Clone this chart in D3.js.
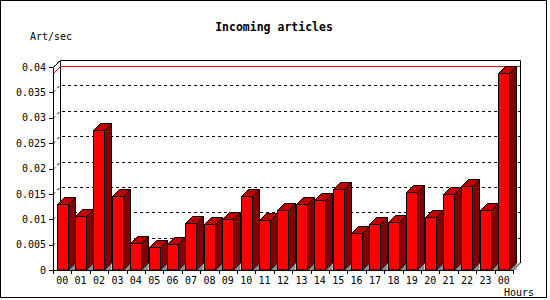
<!DOCTYPE html>
<html>
<head>
<meta charset="utf-8">
<script src="https://cdn.jsdelivr.net/npm/d3@7"></script>
<style>
  body { margin: 0; background: #fff; }
  svg text { font-family: "DejaVu Sans Mono", monospace; font-size: 10px; fill: #000; }
  .title { font-weight: bold; font-size: 11.5px; }
  .axis path, .axis line { stroke: #000; shape-rendering: crispEdges; }
  .axis text { font-family: "DejaVu Sans Mono", monospace; font-size: 10px; }
</style>
</head>
<body>
<div id="chart"></div>
<script>
// hours of the day (last bar is the next midnight)
const hours = ["00", "01", "02", "03", "04", "05", "06", "07", "08", "09", "10", "11",
               "12", "13", "14", "15", "16", "17", "18", "19", "20", "21", "22", "23", "00"];
// incoming articles per second
const artPerSec = [0.0131, 0.0106, 0.0276, 0.0145, 0.0053, 0.0045, 0.0051, 0.0092, 0.0090, 0.0100,
                   0.0145, 0.0098, 0.0118, 0.0131, 0.0137, 0.0159, 0.0072, 0.0090, 0.0094, 0.0153,
                   0.0104, 0.0150, 0.0165, 0.0118, 0.0388];
const yTicks = [0, 0.005, 0.01, 0.015, 0.02, 0.025, 0.03, 0.035, 0.04];

// snap to pixel centres so 1px strokes stay sharp
const px = v => Math.round(v) + 0.5;

class Bar3D {
    constructor(_config, _data) {
        this.config = {
            parentElement: _config.parentElement,
            containerWidth: 550,
            containerHeight: 300,
            margin: { top: 67, right: 37, bottom: 30, left: 53 },
            depth: 7
        };
        this.data = _data;
        this.initVis();
    }

    initVis() {
        let vis = this;
        const m = vis.config.margin;
        vis.width = vis.config.containerWidth - m.left - m.right;
        vis.height = vis.config.containerHeight - m.top - m.bottom;
        vis.d = vis.config.depth;

        vis.xScale = d3.scaleBand()
            .domain(d3.range(vis.data.length))
            .range([0, vis.width]);

        vis.yScale = d3.scaleLinear()
            .domain([0, 0.04])
            .range([vis.height, 0]);

        vis.svg = d3.select(vis.config.parentElement).append('svg')
            .attr('width', vis.config.containerWidth)
            .attr('height', vis.config.containerHeight);

        // outer frame
        vis.svg.append('rect')
            .attr('x', 0.5).attr('y', 0.5)
            .attr('width', 546).attr('height', 297)
            .attr('fill', '#fff').attr('stroke', '#000');

        vis.svg.append('text')
            .attr('class', 'title')
            .attr('x', 274).attr('y', 31)
            .attr('text-anchor', 'middle')
            .text('Incoming articles');

        vis.svg.append('text')
            .attr('x', 30).attr('y', 40)
            .text('Art/sec');

        vis.svg.append('text')
            .attr('x', 504).attr('y', 296)
            .text('Hours');

        vis.chart = vis.svg.append('g')
            .attr('transform', `translate(${m.left},${m.top})`);

        vis.renderVis();
    }

    renderVis() {
        let vis = this;
        const d = vis.d, w = vis.width, h = vis.height;
        const x = vis.xScale, y = vis.yScale;

        // back wall
        vis.chart.append('path')
            .attr('d', `M${d + 0.5},${h - d}V${-d + 0.5}H${w + d + 0.5}V${h - d}`)
            .attr('fill', 'none').attr('stroke', '#000');

        // dotted grid on back wall and left wall
        const grid = yTicks.filter(t => t > 0);
        vis.chart.selectAll('.grid')
            .data(grid)
            .join('path')
            .attr('class', 'grid')
            .attr('d', t => `M0,${px(y(t))}L${d},${px(y(t)) - d}H${w + d}`)
            .attr('fill', 'none').attr('stroke', '#000')
            .attr('stroke-dasharray', '3,3');

        // top of left wall
        vis.chart.append('line')
            .attr('x1', 0.5).attr('y1', 0.5).attr('x2', d + 0.5).attr('y2', -d + 0.5)
            .attr('stroke', '#000');

        // maximum line
        const maxV = d3.max(vis.data);
        vis.chart.append('path')
            .attr('d', `M0.5,${px(y(maxV))}L${d + 0.5},${px(y(maxV)) - d}H${w + d}`)
            .attr('fill', 'none').attr('stroke', '#f00');

        // bars
        const off = x.bandwidth() * 0.2, bw = Math.round(x.bandwidth() * 0.6);
        const bars = vis.chart.selectAll('.bar')
            .data(vis.data)
            .join('g')
            .attr('class', 'bar');

        // floor shadow
        bars.append('path')
            .attr('d', (v, i) => {
                const r = px(x(i) + off) + bw;
                return `M${r},${h}H${r + d}V${h - d}Z`;
            })
            .attr('fill', '#8c8c8c');

        bars.append('path')
            .attr('d', (v, i) => {
                const r = px(x(i) + off) + bw, t = px(y(v));
                return `M${r},${h}V${t}L${r + d},${t - d}V${h - d}Z`;
            })
            .attr('fill', '#800000').attr('stroke', '#000');

        bars.append('path')
            .attr('d', (v, i) => {
                const l = px(x(i) + off), t = px(y(v));
                return `M${l},${t}L${l + d},${t - d}H${l + bw + d}L${l + bw},${t}Z`;
            })
            .attr('fill', '#c00000').attr('stroke', '#000');

        bars.append('rect')
            .attr('x', (v, i) => px(x(i) + off))
            .attr('y', v => px(y(v)))
            .attr('width', bw)
            .attr('height', v => h - px(y(v)))
            .attr('fill', '#f00').attr('stroke', '#000');

        // floor corner at the right end
        vis.chart.append('path')
            .attr('d', `M${w},${h}L${w + d},${h - d}`)
            .attr('stroke', '#8c8c8c').attr('stroke-width', 2);

        // axes
        const yAxis = d3.axisLeft(y)
            .tickValues(yTicks)
            .tickSize(4)
            .tickSizeOuter(0)
            .tickPadding(3)
            .tickFormat(t => String(+t.toFixed(3)));
        vis.chart.append('g').attr('class', 'axis').call(yAxis);

        const xAxis = d3.axisBottom(x)
            .tickSize(0)
            .tickPadding(7)
            .tickFormat(i => hours[i]);
        vis.chart.append('g').attr('class', 'axis')
            .attr('transform', `translate(0,${h})`)
            .call(xAxis)
            .call(g => g.select('.domain').remove());

        const edges = d3.scaleLinear().domain([0, vis.data.length]).range([0, w]);
        const xTicks = d3.axisBottom(edges)
            .tickValues(d3.range(vis.data.length + 1))
            .tickSize(4)
            .tickSizeOuter(0)
            .tickFormat('');
        vis.chart.append('g').attr('class', 'axis')
            .attr('transform', `translate(0,${h})`)
            .call(xTicks);
    }
}

new Bar3D({ parentElement: '#chart' }, artPerSec);
</script>
</body>
</html>
